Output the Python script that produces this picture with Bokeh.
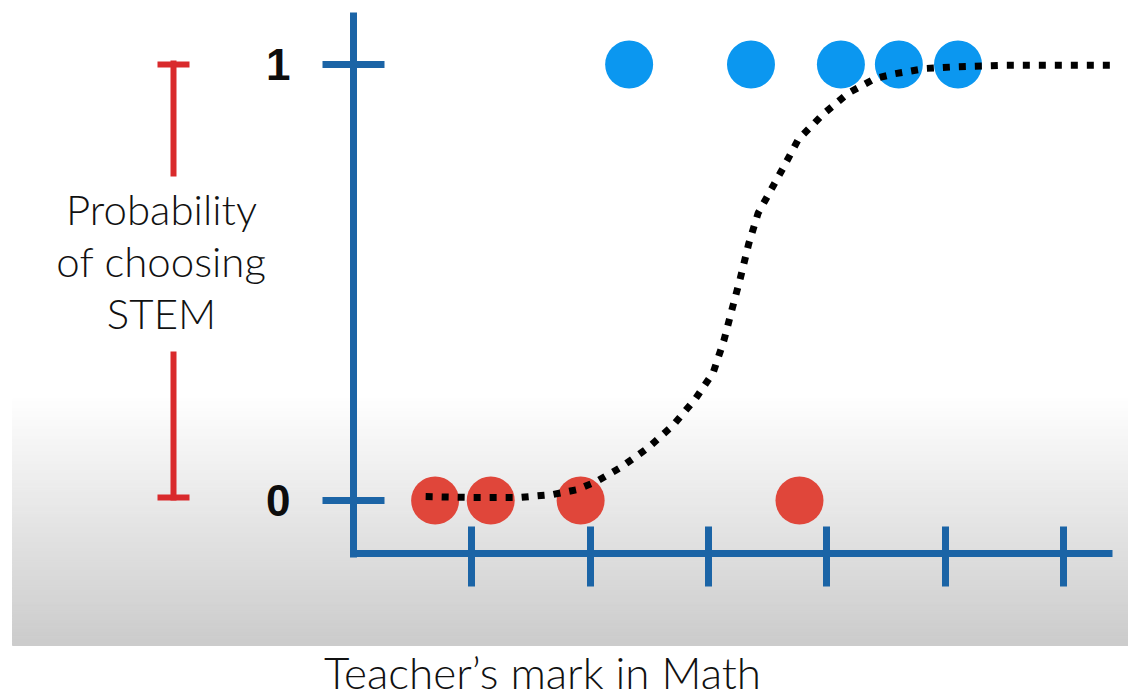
import numpy as np
from bokeh.plotting import figure
from bokeh.models import Range1d, LinearAxis, FixedTicker
from bokeh.core.properties import value
from bokeh.embed import file_html
from bokeh.resources import INLINE

# Students who did not choose STEM (outcome 0) and their math mark
no_stem_mark = [0.69, 1.16, 1.92, 3.77]
no_stem_outcome = [0, 0, 0, 0]

# Students who chose STEM (outcome 1) and their math mark
stem_mark = [2.33, 3.36, 4.12, 4.61, 5.11]
stem_outcome = [1, 1, 1, 1, 1]

# Fitted logistic curve: probability of choosing STEM against the mark
curve_mark = [0.61, 0.99, 1.41, 1.69, 1.89, 2.05, 2.26, 2.49, 2.70, 2.89,
              3.04, 3.13, 3.20, 3.27, 3.34, 3.42, 3.63, 3.76, 3.97, 4.18,
              4.41, 4.58, 4.84, 5.11, 5.47, 6.40]
curve_prob = [0.009, 0.007, 0.007, 0.014, 0.025, 0.043, 0.076, 0.121, 0.172, 0.233,
              0.293, 0.366, 0.439, 0.510, 0.588, 0.659, 0.762, 0.828, 0.886, 0.934,
              0.968, 0.979, 0.991, 0.995, 0.998, 0.998]

x_ticks = [1, 2, 3, 4, 5, 6]
y_ticks = [0, 1]
y_title = ["Probability", "of choosing", "STEM"]
x_title = "Teacher\u2019s mark in Math"

AXIS_BLUE = "#1b64a6"
POINT_BLUE = "#0b97f0"
POINT_RED = "#e0463a"
BRACKET_RED = "#d92a2c"
TITLE_FONT = "'Lato Light', Lato"

# canvas geometry: 118.3 px per mark unit, 436 px per probability unit
X0, XS = 353.0, 118.3
Y0, YS = 500.0, 436.0


def sx(px):
    return (px - X0) / XS


def sy(py):
    return (Y0 - py) / YS


W, H = 1128, 700
p = figure(width=W, height=H,
           x_range=Range1d(sx(0), sx(W)), y_range=Range1d(sy(H), sy(0)),
           x_axis_type=None, y_axis_type=None,
           output_backend="svg", toolbar_location=None, min_border=0)
p.outline_line_color = None
p.background_fill_color = "white"
p.border_fill_color = "white"

# soft grey backdrop fading in toward the bottom
n_bands = 80
edges = np.linspace(395, 645, n_bands + 1)
shades = np.linspace(255, 204, n_bands)
band_colors = ["#%02x%02x%02x" % (int(s), int(s), int(s)) for s in shades]
p.quad(left=sx(12), right=sx(W),
       top=[sy(e) for e in edges[:-1]], bottom=[sy(e) for e in edges[1:]],
       fill_color=band_colors, line_color=band_colors, line_width=1)

# axes crossing at the origin
xaxis = LinearAxis(fixed_location=sy(553), bounds=(sx(349.5), sx(1112)),
                   ticker=FixedTicker(ticks=x_ticks))
xaxis.axis_line_color = AXIS_BLUE
xaxis.axis_line_width = 7
xaxis.major_tick_line_color = AXIS_BLUE
xaxis.major_tick_line_width = 7
xaxis.major_tick_in = 27
xaxis.major_tick_out = 33
xaxis.minor_tick_line_color = None
xaxis.major_label_text_alpha = 0
p.add_layout(xaxis, "below")

yaxis = LinearAxis(fixed_location=0, bounds=(sy(556.5), sy(12)),
                   ticker=FixedTicker(ticks=y_ticks))
yaxis.axis_line_color = AXIS_BLUE
yaxis.axis_line_width = 7
yaxis.major_tick_line_color = AXIS_BLUE
yaxis.major_tick_line_width = 7
yaxis.major_tick_in = 31
yaxis.major_tick_out = 31
yaxis.minor_tick_line_color = None
yaxis.major_label_standoff = 32
yaxis.major_label_text_font = "Liberation Sans"
yaxis.major_label_text_font_style = "bold"
yaxis.major_label_text_font_size = "44px"
yaxis.major_label_text_color = "#0d0d0d"
p.add_layout(yaxis, "left")

# observations
p.scatter(stem_mark, stem_outcome, size=48, fill_color=POINT_BLUE, line_color=None)
p.scatter(no_stem_mark, no_stem_outcome, size=48, fill_color=POINT_RED, line_color=None)

# fitted curve, dotted
p.line(curve_mark, curve_prob, line_color="black", line_width=7,
       line_dash="7 9", line_cap="butt")

# red range bracket beside the y title
bx = sx(173)
p.segment(x0=[bx, bx, sx(157), sx(157)], y0=[sy(60), sy(351), 1.0, sy(497)],
          x1=[bx, bx, sx(189), sx(189)], y1=[sy(176), sy(500), 1.0, sy(497)],
          line_color=BRACKET_RED, line_width=6)

p.text(x=[sx(161)] * 3, y=[sy(208), sy(260), sy(312)], text=y_title,
       text_align="center", text_baseline="alphabetic",
       text_font=value(TITLE_FONT), text_font_size="42px", text_color="#111111")

p.text(x=[sx(542)], y=[sy(671)], text=[x_title],
       text_align="center", text_baseline="alphabetic",
       text_font=value(TITLE_FONT), text_font_size="44px", text_color="#111111")

open("out.html", "w").write(file_html(p, INLINE))
